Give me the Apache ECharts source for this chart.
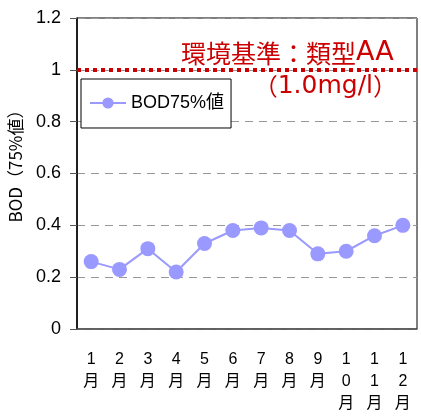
<!DOCTYPE html>
<html>
<head>
<meta charset="utf-8">
<script src="https://cdn.jsdelivr.net/npm/echarts@6/dist/echarts.min.js"></script>
<style>
  html, body { margin: 0; padding: 0; background: #fff; }
  #chart { width: 421px; height: 416px; }
</style>
</head>
<body>
<div id="chart"></div>
<script>
// Monthly BOD 75% values (mg/l)
const months = ['1月', '2月', '3月', '4月', '5月', '6月', '7月', '8月', '9月', '10月', '11月', '12月'];
const bod75 = [0.26, 0.23, 0.31, 0.22, 0.33, 0.38, 0.39, 0.38, 0.29, 0.30, 0.36, 0.40];
const standardAA = 1.0;
const seriesName = 'BOD75%値';
const yTitle = 'BOD（75%値）';
const standardTitle = '環境基準：類型';
const standardClass = 'AA';
const standardValue = '1.0mg/l';

const latin = '"Liberation Sans", Arial, "Noto Sans CJK JP", sans-serif';
const cjk = '"Noto Sans CJK JP", sans-serif';
const wide = '"DejaVu Sans", sans-serif';
const red = '#cc0000';

const chart = echarts.init(document.getElementById('chart'), null, { renderer: 'canvas' });

chart.setOption({
  animation: false,
  backgroundColor: '#fff',
  grid: {
    left: 77, right: 4, top: 18, bottom: 87,
    show: true, borderColor: '#000', borderWidth: 1, backgroundColor: 'transparent'
  },
  legend: {
    left: 81, top: 79,
    padding: [15, 7, 16, 8],
    backgroundColor: '#fff',
    borderColor: '#000', borderWidth: 1,
    itemWidth: 36, itemHeight: 14, itemGap: 5,
    textStyle: { fontSize: 18, color: '#000', fontFamily: latin },
    data: [seriesName]
  },
  xAxis: {
    type: 'category',
    data: months,
    boundaryGap: true,
    axisLine: { lineStyle: { color: '#555', width: 1.5 } },
    axisTick: { show: false },
    axisLabel: {
      color: '#000', fontSize: 16, fontFamily: latin, lineHeight: 22, margin: 20,
      interval: 0,
      formatter: v => v.split('').join('\n')
    },
    splitLine: { show: false }
  },
  yAxis: {
    type: 'value',
    min: 0, max: 1.2, interval: 0.2,
    axisLine: { show: true, lineStyle: { color: '#000', width: 1.5 } },
    axisTick: { show: true, length: 7, lineStyle: { color: '#555' } },
    axisLabel: {
      color: '#000', fontSize: 18, fontFamily: latin, margin: 16,
      formatter: v => String(Math.round(v * 10) / 10)
    },
    splitLine: { show: true, lineStyle: { color: '#999', type: [8, 6], width: 1 } }
  },
  graphic: [
    {
      type: 'text', x: 16, y: 162, rotation: Math.PI / 2,
      style: { text: yTitle, font: '17px ' + cjk, fill: '#000', align: 'center', verticalAlign: 'middle' }
    },
    {
      type: 'text', x: 181, y: 53,
      style: {
        text: '{c|' + standardTitle + '}{a|' + standardClass + '}',
        align: 'left', verticalAlign: 'middle',
        rich: {
          c: { font: '25px ' + cjk, fill: red },
          a: { font: '27px ' + wide, fill: red }
        }
      }
    },
    {
      type: 'text', x: 397, y: 86,
      style: {
        text: '{p|（}{v|' + standardValue + '}{p|）}',
        align: 'right', verticalAlign: 'middle',
        rich: {
          p: { font: '24px ' + cjk, fill: red },
          v: { font: '25px ' + wide, fill: red }
        }
      }
    }
  ],
  series: [
    {
      name: seriesName,
      type: 'line',
      data: bod75,
      symbol: 'circle',
      symbolSize: 15,
      itemStyle: { color: '#9999ff' },
      lineStyle: { color: '#9999ff', width: 2 },
      markLine: {
        silent: true,
        symbol: 'none',
        label: { show: false },
        lineStyle: { color: red, width: 4, type: [4, 4] },
        data: [{ yAxis: standardAA }]
      }
    }
  ]
});
</script>
</body>
</html>
